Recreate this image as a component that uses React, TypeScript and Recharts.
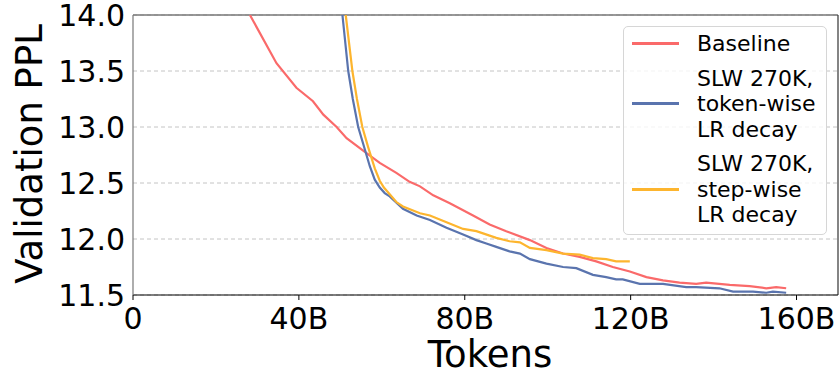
import { LineChart, Line, XAxis, YAxis, CartesianGrid, ReferenceLine } from "recharts";

const FONT = "DejaVu Sans, sans-serif";

// tokens (B) / validation PPL
const baselineTokens = [28.2, 34.6, 39.4, 43.4, 45.9, 49.1, 51.5, 55.5, 59.5, 63.5, 66.7, 69.2, 72.4, 76.4, 82.0, 86.0, 90.0, 95.7, 99.7, 103.7, 107.7, 111.7, 115.7, 119.8, 123.8, 127.8, 131.8, 135.8, 138.2, 143.9, 148.7, 152.7, 155.1, 157.5];
const baselinePpl = [14.0, 13.57, 13.35, 13.23, 13.11, 13.0, 12.9, 12.79, 12.68, 12.59, 12.51, 12.47, 12.39, 12.32, 12.21, 12.13, 12.07, 11.99, 11.92, 11.87, 11.84, 11.8, 11.75, 11.71, 11.66, 11.63, 11.61, 11.6, 11.61, 11.59, 11.58, 11.56, 11.57, 11.56];

const tokenWiseTokens = [50.5, 51.9, 53.0, 54.3, 55.5, 57.1, 58.3, 59.5, 60.7, 61.9, 65.1, 68.4, 71.6, 75.6, 79.6, 82.8, 85.2, 87.6, 90.8, 93.3, 95.7, 99.7, 103.7, 106.9, 110.9, 114.1, 116.5, 118.1, 122.2, 127.8, 133.4, 135.8, 141.4, 144.7, 149.5, 152.7, 154.3, 157.5];
const tokenWisePpl = [14.0, 13.5, 13.25, 13.0, 12.85, 12.65, 12.53, 12.46, 12.41, 12.38, 12.27, 12.21, 12.17, 12.1, 12.04, 11.99, 11.96, 11.93, 11.89, 11.87, 11.82, 11.78, 11.75, 11.74, 11.68, 11.66, 11.64, 11.64, 11.6, 11.6, 11.57, 11.57, 11.56, 11.53, 11.53, 11.52, 11.53, 11.52];

const stepWiseTokens = [51.3, 52.9, 54.0, 55.3, 56.7, 58.3, 59.5, 60.5, 61.9, 63.5, 65.1, 69.2, 71.6, 75.6, 79.6, 82.8, 86.0, 87.6, 90.8, 93.3, 95.7, 99.7, 103.7, 107.7, 110.9, 114.1, 116.5, 119.8];
const stepWisePpl = [14.0, 13.5, 13.25, 13.0, 12.82, 12.63, 12.52, 12.46, 12.4, 12.33, 12.29, 12.23, 12.21, 12.15, 12.09, 12.07, 12.03, 12.01, 11.98, 11.97, 11.92, 11.9, 11.87, 11.86, 11.83, 11.82, 11.8, 11.8];

const xTicks = [0, 40, 80, 120, 160];
const yTicks = [11.5, 12.0, 12.5, 13.0, 13.5, 14.0];

const zip = (xs: number[], ys: number[]) => xs.map((x, i) => ({ x, y: ys[i] }));

const series = [
  { name: "Baseline", lines: ["Baseline"], color: "#fa6a6a", data: zip(baselineTokens, baselinePpl) },
  { name: "token-wise", lines: ["SLW 270K,", "token-wise", "LR decay"], color: "#5a74ae", data: zip(tokenWiseTokens, tokenWisePpl) },
  { name: "step-wise", lines: ["SLW 270K,", "step-wise", "LR decay"], color: "#fdb52e", data: zip(stepWiseTokens, stepWisePpl) },
];

const LegendBox = () => (
  <div
    style={{
      position: "absolute",
      left: 623,
      top: 26,
      width: 204,
      height: 209,
      boxSizing: "border-box",
      border: "1px solid #d6d6d6",
      borderRadius: 5,
      background: "rgba(255,255,255,0.8)",
      fontFamily: FONT,
      fontSize: 22,
      lineHeight: "25.5px",
      color: "#000",
      paddingTop: 4,
      whiteSpace: "nowrap",
    }}
  >
    {series.map((s) => (
      <div key={s.name} style={{ display: "flex", alignItems: "center", marginBottom: 9 }}>
        <div style={{ width: 47, height: 3, background: s.color, marginLeft: 8, marginRight: 18, flexShrink: 0 }} />
        <div>
          {s.lines.map((l) => (
            <div key={l}>{l}</div>
          ))}
        </div>
      </div>
    ))}
  </div>
);

const XLabel = () => (
  <text x={490} y={367} textAnchor="middle" fontFamily={FONT} fontSize={37} fill="#000">
    Tokens
  </text>
);

const YLabel = () => (
  <text x={42} y={154} textAnchor="middle" fontFamily={FONT} fontSize={37} fill="#000" transform="rotate(-90, 42, 154)">
    Validation PPL
  </text>
);

export default function App() {
  return (
    <div style={{ position: "absolute", left: 0, top: 0, width: 840, height: 379, background: "#fff" }}>
      <LineChart width={840} height={379} margin={{ top: 15, right: 2, bottom: 0, left: 0 }}>
        <CartesianGrid horizontal vertical={false} stroke="#c4c4c4" strokeDasharray="4 3" />
        <XAxis
          dataKey="x"
          type="number"
          domain={[0, 170]}
          ticks={xTicks}
          tickFormatter={(v: number) => (v === 0 ? "0" : `${v}B`)}
          height={84}
          allowDataOverflow
          axisLine={{ stroke: "#000", strokeWidth: 1.2 }}
          tickLine={{ stroke: "#000" }}
          tickSize={5}
          tick={{ fontFamily: FONT, fontSize: 30, fill: "#000", dy: 6 }}
          label={<XLabel />}
        />
        <YAxis
          dataKey="y"
          type="number"
          domain={[11.5, 14]}
          ticks={yTicks}
          interval={0}
          tickFormatter={(v: number) => v.toFixed(1)}
          width={133}
          allowDataOverflow
          axisLine={{ stroke: "#777", strokeWidth: 1.2 }}
          tickLine={false}
          tickSize={4}
          tick={{ fontFamily: FONT, fontSize: 30, fill: "#000", dx: -2 }}
          label={<YLabel />}
        />
        <ReferenceLine y={14} stroke="#777" strokeWidth={1.5} />
        <ReferenceLine x={170} stroke="#333" strokeWidth={1.2} />
        {series.map((s) => (
          <Line
            key={s.name}
            data={s.data}
            dataKey="y"
            name={s.name}
            type="linear"
            stroke={s.color}
            strokeWidth={2.2}
            dot={false}
            isAnimationActive={false}
          />
        ))}
      </LineChart>
      <LegendBox />
    </div>
  );
}
